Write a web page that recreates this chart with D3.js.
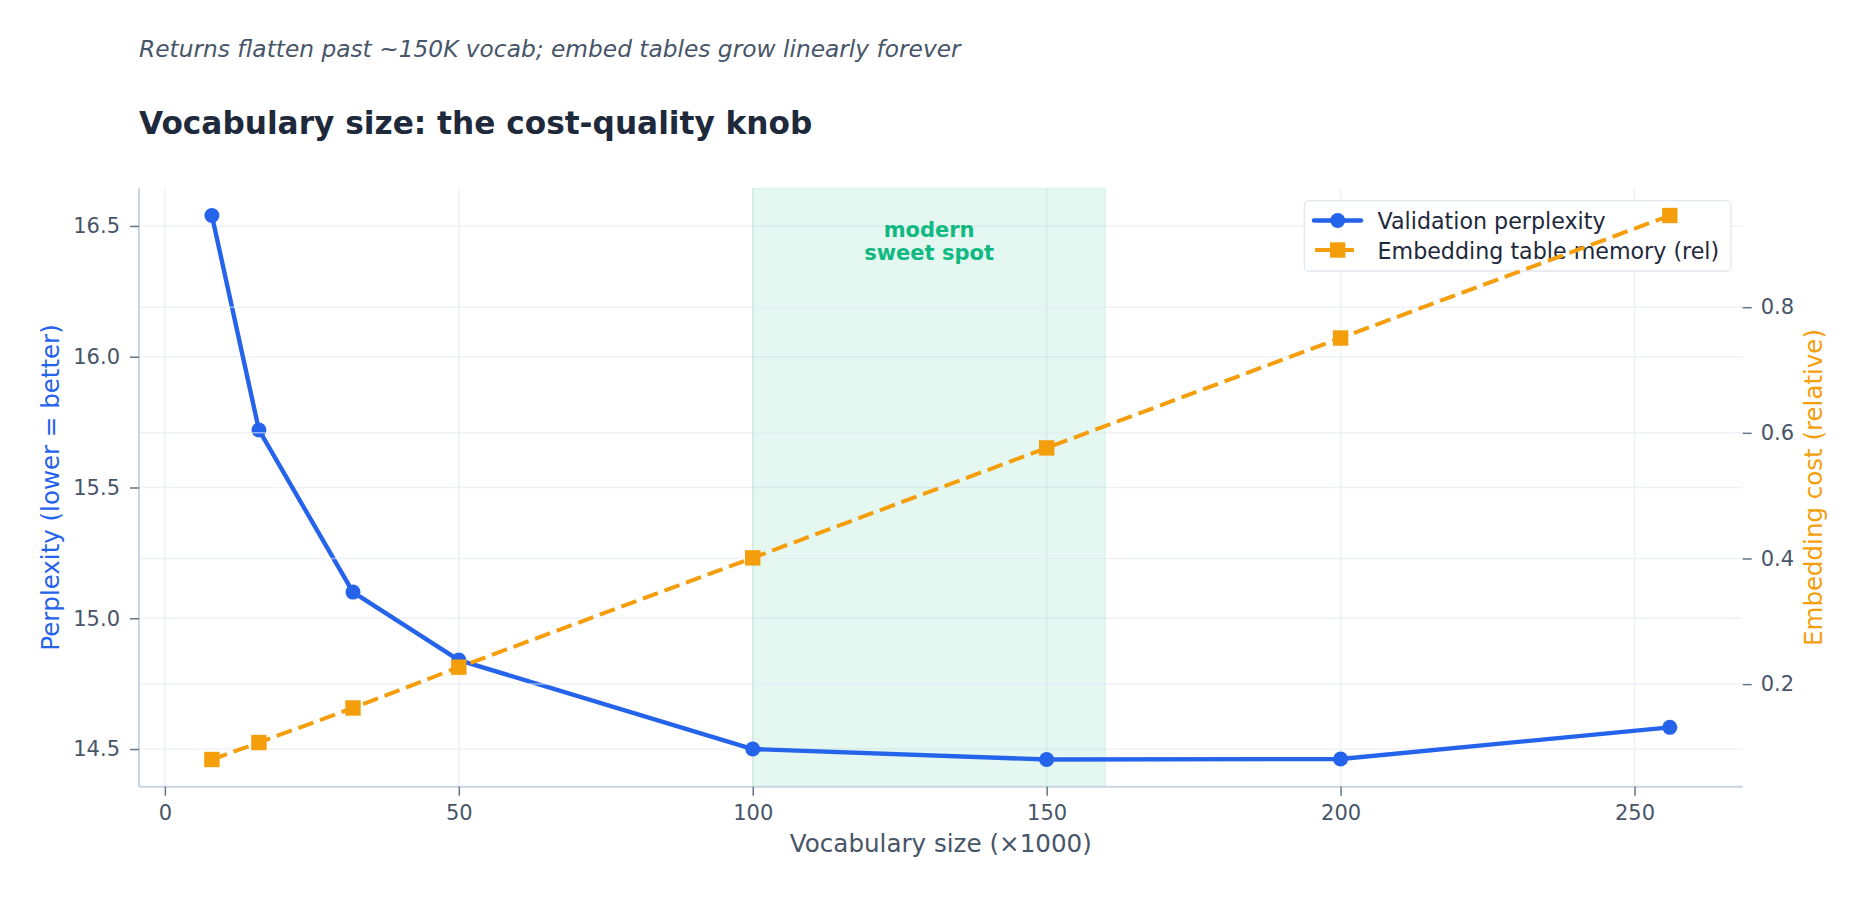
<!DOCTYPE html>
<html>
<head>
<meta charset="utf-8">
<script src="https://cdn.jsdelivr.net/npm/d3@7"></script>
<style>
  body { margin: 0; background: #fff; }
  svg { display: block; font-family: "DejaVu Sans", sans-serif; }
</style>
</head>
<body>
<svg id="chart" width="1867" height="897"></svg>
<script>
// data
const vocab = [8, 16, 32, 50, 100, 150, 200, 256];
const perplexity = [16.54, 15.72, 15.10, 14.84, 14.50, 14.46, 14.462, 14.583];
const embedCost = [0.080, 0.107, 0.162, 0.227, 0.401, 0.576, 0.751, 0.946];
const xTicks = [0, 50, 100, 150, 200, 250];
const leftTicks = [14.5, 15.0, 15.5, 16.0, 16.5];
const rightTicks = [0.2, 0.4, 0.6, 0.8];
const sweetSpot = [100, 160];

const blue = "#2563eb", orange = "#f59e0b", green = "#10b981";
const gridColor = "#e2e8f0", spineColor = "#cbd5e1", tickText = "#475569";

const svg = d3.select("#chart");
const m = {left: 139, right: 1742.7, top: 188.3, bottom: 786.7};

// matplotlib style 5% margins
const pad = (lo, hi) => [lo - (hi - lo) * 0.05, hi + (hi - lo) * 0.05];
const x = d3.scaleLinear().domain(pad(d3.min(vocab), d3.max(vocab))).range([m.left, m.right]);
const y1 = d3.scaleLinear().domain(pad(d3.min(perplexity), d3.max(perplexity))).range([m.bottom, m.top]);
const y2 = d3.scaleLinear().domain(pad(d3.min(embedCost), d3.max(embedCost))).range([m.bottom, m.top]);

// subtitle + title
svg.append("text").attr("x", 139).attr("y", 57)
  .attr("font-size", 23.3).attr("font-style", "italic").attr("fill", "#475569")
  .text("Returns flatten past ~150K vocab; embed tables grow linearly forever");
svg.append("text").attr("x", 139).attr("y", 133.5)
  .attr("font-size", 31.2).attr("font-weight", "bold").attr("fill", "#1e293b")
  .text("Vocabulary size: the cost-quality knob");

// ax1 grid
const g1 = svg.append("g");
g1.selectAll(".gx").data(xTicks).join("line")
  .attr("x1", d => x(d)).attr("x2", d => x(d)).attr("y1", m.top).attr("y2", m.bottom)
  .attr("stroke", gridColor).attr("stroke-opacity", 0.6).attr("stroke-width", 1.5);
g1.selectAll(".gy").data(leftTicks).join("line")
  .attr("x1", m.left).attr("x2", m.right).attr("y1", d => y1(d)).attr("y2", d => y1(d))
  .attr("stroke", gridColor).attr("stroke-opacity", 0.6).attr("stroke-width", 1.5);

// sweet spot band
svg.append("rect")
  .attr("x", x(sweetSpot[0])).attr("width", x(sweetSpot[1]) - x(sweetSpot[0]))
  .attr("y", m.top).attr("height", m.bottom - m.top)
  .attr("fill", green).attr("fill-opacity", 0.11)
  .attr("stroke", green).attr("stroke-opacity", 0.08).attr("stroke-width", 1.5);

// perplexity line
const line1 = d3.line().x((d, i) => x(vocab[i])).y(d => y1(d));
svg.append("path").datum(perplexity).attr("d", line1)
  .attr("fill", "none").attr("stroke", blue).attr("stroke-width", 4.4)
  .attr("stroke-linejoin", "round").attr("stroke-linecap", "round");
svg.selectAll(".dot").data(perplexity).join("circle")
  .attr("cx", (d, i) => x(vocab[i])).attr("cy", d => y1(d)).attr("r", 7.5).attr("fill", blue);

// annotation
const ann = svg.append("text").attr("text-anchor", "middle")
  .attr("font-size", 21).attr("font-weight", "bold").attr("fill", green);
ann.append("tspan").attr("x", x(130)).attr("y", 236.5).text("modern");
ann.append("tspan").attr("x", x(130)).attr("y", 260).text("sweet spot");

// legend (belongs to ax1, so ax2 draws over it)
const lg = svg.append("g");
lg.append("rect").attr("x", 1304.3).attr("y", 200.7).attr("width", 426.5).attr("height", 70.3)
  .attr("rx", 4).attr("fill", "#fff").attr("fill-opacity", 0.85)
  .attr("stroke", "#e2e8f0").attr("stroke-width", 1.3);
lg.append("line").attr("x1", 1314).attr("x2", 1361).attr("y1", 220.5).attr("y2", 220.5)
  .attr("stroke", blue).attr("stroke-width", 4.4).attr("stroke-linecap", "round");
lg.append("circle").attr("cx", 1337.7).attr("cy", 220.5).attr("r", 7.5).attr("fill", blue);
lg.append("line").attr("x1", 1315).attr("x2", 1356).attr("y1", 250).attr("y2", 250)
  .attr("stroke", orange).attr("stroke-width", 4).attr("stroke-dasharray", "16,7");
lg.append("rect").attr("x", 1330).attr("y", 242.3).attr("width", 15.4).attr("height", 15.4).attr("fill", orange);
lg.append("text").attr("x", 1377.5).attr("y", 228.5).attr("font-size", 22.2).attr("fill", "#1e293b")
  .text("Validation perplexity");
lg.append("text").attr("x", 1377.5).attr("y", 258.5).attr("font-size", 22.2).attr("fill", "#1e293b")
  .text("Embedding table memory (rel)");

// ax2 grid, on top of ax1 content
svg.append("g").selectAll("line").data(rightTicks).join("line")
  .attr("x1", m.left).attr("x2", m.right).attr("y1", d => y2(d)).attr("y2", d => y2(d))
  .attr("stroke", gridColor).attr("stroke-opacity", 0.6).attr("stroke-width", 1.5);

// embedding cost line
const line2 = d3.line().x((d, i) => x(vocab[i])).y(d => y2(d));
svg.append("path").datum(embedCost).attr("d", line2)
  .attr("fill", "none").attr("stroke", orange).attr("stroke-width", 4)
  .attr("stroke-dasharray", "16,7");
svg.selectAll(".sq").data(embedCost).join("rect")
  .attr("x", (d, i) => x(vocab[i]) - 7.7).attr("y", d => y2(d) - 7.7)
  .attr("width", 15.4).attr("height", 15.4).attr("fill", orange);

// axes
const axX = svg.append("g").attr("transform", `translate(0,${m.bottom})`)
  .call(d3.axisBottom(x).tickValues(xTicks).tickSize(9).tickPadding(9).tickFormat(d3.format("d")));
const axL = svg.append("g").attr("transform", `translate(${m.left},0)`)
  .call(d3.axisLeft(y1).tickValues(leftTicks).tickSize(9).tickPadding(10).tickFormat(d3.format(".1f")));
const axR = svg.append("g").attr("transform", `translate(${m.right},0)`)
  .call(d3.axisRight(y2).tickValues(rightTicks).tickSize(9).tickPadding(9).tickFormat(d3.format(".1f")));

[axX, axL, axR].forEach(a => {
  a.selectAll("text").attr("font-size", 21).attr("fill", tickText).attr("font-family", "DejaVu Sans");
  a.selectAll(".tick line").attr("stroke", "#64748b").attr("stroke-width", 1.5);
});
axX.select(".domain").attr("d", `M0,0H${m.right - m.left}`).attr("transform", `translate(${m.left},0)`)
  .attr("stroke", spineColor).attr("stroke-width", 2);
axL.select(".domain").attr("d", `M0,${m.top}V${m.bottom}`).attr("stroke", spineColor).attr("stroke-width", 2);
axR.select(".domain").remove();

// axis labels
svg.append("text").attr("x", (m.left + m.right) / 2).attr("y", 852)
  .attr("text-anchor", "middle").attr("font-size", 24.6).attr("fill", tickText)
  .text("Vocabulary size (×1000)");
svg.append("text").attr("transform", `translate(59,${(m.top + m.bottom) / 2}) rotate(-90)`)
  .attr("text-anchor", "middle").attr("font-size", 24.5).attr("fill", blue)
  .text("Perplexity (lower = better)");
svg.append("text").attr("transform", `translate(1822,${(m.top + m.bottom) / 2}) rotate(-90)`)
  .attr("text-anchor", "middle").attr("font-size", 24.5).attr("fill", orange)
  .text("Embedding cost (relative)");
</script>
</body>
</html>
